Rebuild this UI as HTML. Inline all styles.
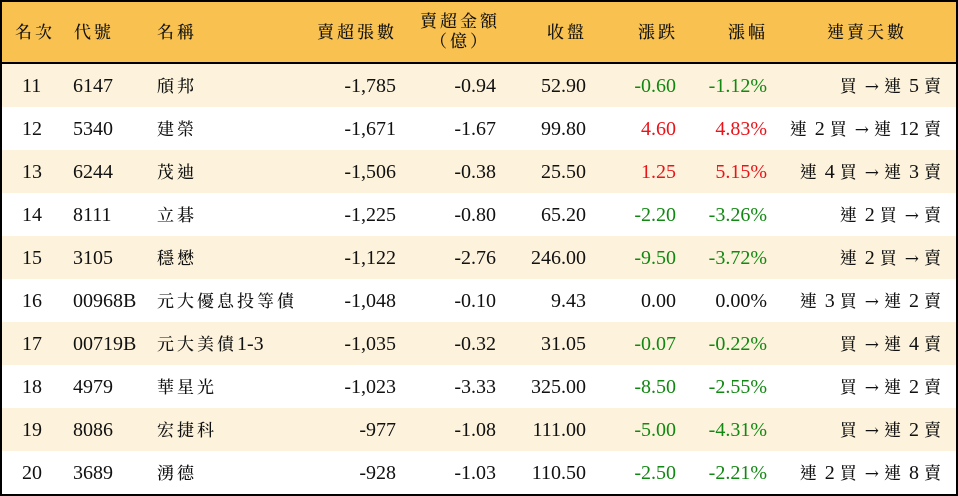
<!DOCTYPE html>
<html><head><meta charset="utf-8"><style>
*{margin:0;padding:0;box-sizing:border-box}
body{width:958px;height:496px;background:#fff;overflow:hidden;font-family:"Liberation Serif","Noto Serif CJK TC","Noto Serif CJK SC",serif;font-size:20px;color:#111}
#f{position:absolute;left:0;top:0;width:958px;height:496px;border:2px solid #000}
.h{position:absolute;left:0;top:0;width:958px;height:64px;background:#F8C150;border-bottom:2px solid #000}
.r{position:absolute;left:0;width:958px;height:43px}
.o{background:#FDF3DC}
.c{position:absolute;white-space:nowrap;line-height:22px}
.k{font-size:17px;letter-spacing:3px;font-weight:500}
.a{font-family:"DejaVu Serif",serif;font-size:17px;font-weight:normal}
.g{color:#118811}.red{color:#e8141a}
</style></head><body>
<div class="h"></div>
<div id="f"></div>
<script>
var H=document.body;
function wrap(t){return t.replace(/[\u3000-\u9fff\uff00-\uffef]+/g,function(m){return '<span class="k">'+m+'</span>'}).replace(/→/g,'<span class="a">→</span>');}
function add(txt,x,y,align,cls,w){var d=document.createElement('div');d.className='c '+(cls||'');d.innerHTML=wrap(txt);
if(align=='r'){d.style.right=(958-x)+'px'}else if(align=='c'){d.style.left=(x-w/2)+'px';d.style.width=w+'px';d.style.textAlign='center'}else d.style.left=x+'px';
d.style.top=(y-11)+'px';H.appendChild(d);}
add('名次',15,32,'l');add('代號',74,32,'l');add('名稱',157,32,'l');
add('賣超張數',397,32,'r');
add('賣超金額',460,21,'c','',120);add('（億）',460,41,'c','',120);
add('收盤',587,32,'r');add('漲跌',678,32,'r');add('漲幅',768,32,'r');
add('連賣天數',867,32,'c','',160);
var d=[
['11','6147','頎邦','-1,785','-0.94','52.90','-0.60','-1.12%','買 → 連 5 賣','g'],
['12','5340','建榮','-1,671','-1.67','99.80','4.60','4.83%','連 2 買 → 連 12 賣','red'],
['13','6244','茂迪','-1,506','-0.38','25.50','1.25','5.15%','連 4 買 → 連 3 賣','red'],
['14','8111','立碁','-1,225','-0.80','65.20','-2.20','-3.26%','連 2 買 → 賣','g'],
['15','3105','穩懋','-1,122','-2.76','246.00','-9.50','-3.72%','連 2 買 → 賣','g'],
['16','00968B','元大優息投等債','-1,048','-0.10','9.43','0.00','0.00%','連 3 買 → 連 2 賣',''],
['17','00719B','元大美債1-3','-1,035','-0.32','31.05','-0.07','-0.22%','買 → 連 4 賣','g'],
['18','4979','華星光','-1,023','-3.33','325.00','-8.50','-2.55%','買 → 連 2 賣','g'],
['19','8086','宏捷科','-977','-1.08','111.00','-5.00','-4.31%','買 → 連 2 賣','g'],
['20','3689','湧德','-928','-1.03','110.50','-2.50','-2.21%','連 2 買 → 連 8 賣','g']];
for(var i=0;i<10;i++){var y=64+i*43,r=document.createElement('div');r.className='r'+(i%2==0?' o':'');r.style.top=y+'px';H.insertBefore(r,document.getElementById('f'));
var cy=y+22,a=d[i];
add(a[0],22,cy,'l');add(a[1],73,cy,'l');add(a[2],157,cy,'l');add(a[3],396,cy,'r');add(a[4],496,cy,'r');add(a[5],586,cy,'r');
add(a[6],676,cy,'r',a[9]);add(a[7],767,cy,'r',a[9]);add(a[8],944,cy,'r','');}
</script>
</body></html>
